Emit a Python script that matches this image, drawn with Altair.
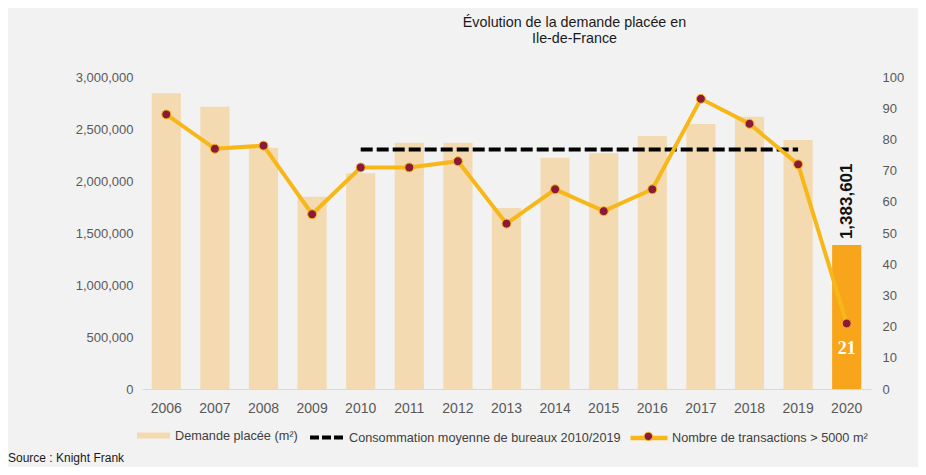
import altair as alt
import pandas as pd

# ---- data ----
years = [str(y) for y in range(2006, 2021)]
demande = [2843000, 2714000, 2320000, 1849000, 2074000, 2368000, 2368000,
           1740000, 2224000, 2266000, 2433000, 2548000, 2618000, 2394000, 1383601]
transactions = [88, 77, 78, 56, 71, 71, 73, 53, 64, 57, 64, 93, 85, 72, 21]
moyenne_years = ["2010", "2019"]
moyenne_values = [2303000, 2303000]
left_ticks = [0, 500000, 1000000, 1500000, 2000000, 2500000, 3000000]
right_ticks = [0, 10, 20, 30, 40, 50, 60, 70, 80, 90, 100]

lab_bar = "Demande placée (m²)"
lab_avg = "Consommation moyenne de bureaux 2010/2019"
lab_line = "Nombre de transactions > 5000 m²"
title_lines = ["Évolution de la demande placée en", "Ile-de-France"]
source_text = "Source : Knight Frank"

df = pd.DataFrame({"annee": years, "demande": demande, "transactions": transactions})
df["s_bar"] = lab_bar
df["s_line"] = lab_line
avg_df = pd.DataFrame({"annee": moyenne_years, "valeur": moyenne_values, "s_avg": lab_avg})
src_df = pd.DataFrame({"t": [source_text]})

FONT = "Liberation Sans"
C_BAR = "#f3dab0"
C_BAR20 = "#f9a51b"
C_LINE = "#f7b718"
C_PT = "#8b1a3a"
GREY = "#595959"

base = alt.Chart(df)

x_axis = alt.Axis(title=None, labelAngle=0, ticks=False, domainColor="#d9d9d9",
                  labelColor=GREY, labelFontSize=14, labelFont=FONT, labelPadding=12)
x_scale = alt.Scale(paddingInner=0.4, paddingOuter=0.2)
x_enc = alt.X("annee:N", sort=years, scale=x_scale, axis=x_axis)

left_scale = alt.Scale(domain=[0, 3000000], nice=False, zero=True)
right_scale = alt.Scale(domain=[0, 100], nice=False, zero=True)

rect_path = "M-1,-0.18L1,-0.18L1,0.18L-1,0.18Z"

legend_common = dict(title=None, orient="none", labelFont=FONT, labelFontSize=12.7,
                     labelColor="#404040", labelLimit=0)

bars = base.transform_filter(alt.datum.annee != "2020").mark_bar().encode(
    x=x_enc,
    y=alt.Y("demande:Q", scale=left_scale,
            axis=alt.Axis(title=None, values=left_ticks,
                          labelExpr="format(datum.value, ',')", grid=False, domain=False,
                          ticks=False, labelColor=GREY, labelFontSize=13, labelFont=FONT,
                          labelPadding=9)),
    color=alt.Color("s_bar:N", scale=alt.Scale(domain=[lab_bar], range=[C_BAR]),
                    legend=alt.Legend(legendX=-5, legendY=342,
                                      symbolType=rect_path, symbolSize=1089,
                                      symbolStrokeWidth=0, labelOffset=5, **legend_common)),
)

bar20 = base.transform_filter(alt.datum.annee == "2020").mark_bar(color=C_BAR20).encode(
    x=x_enc,
    y=alt.Y("demande:Q", scale=left_scale, axis=None),
)

avg = alt.Chart(avg_df).mark_line(strokeDash=[12, 4], strokeWidth=4).encode(
    x=x_enc,
    y=alt.Y("valeur:Q", scale=left_scale, axis=None),
    color=alt.Color("s_avg:N", scale=alt.Scale(domain=[lab_avg], range=["#000000"]),
                    legend=alt.Legend(legendX=166, legendY=341,
                                      symbolType="stroke", symbolSize=1225,
                                      symbolStrokeWidth=4, symbolDash=[9, 3],
                                      labelOffset=2, **legend_common)),
)

line = base.mark_line(strokeWidth=4).encode(
    x=x_enc,
    y=alt.Y("transactions:Q", scale=right_scale,
            axis=alt.Axis(orient="right", title=None, values=right_ticks, grid=False,
                          domain=False, ticks=False, labelColor=GREY, labelFontSize=13,
                          labelFont=FONT, labelPadding=11)),
    color=alt.Color("s_line:N", scale=alt.Scale(domain=[lab_line], range=[C_LINE]),
                    legend=alt.Legend(legendX=486, legendY=340,
                                      symbolType="stroke", symbolSize=1369,
                                      symbolStrokeWidth=4.5, labelOffset=2, **legend_common)),
)

points = base.mark_circle(size=80, opacity=1, stroke=C_LINE, strokeWidth=1).encode(
    x=x_enc,
    y=alt.Y("transactions:Q", scale=right_scale, axis=None),
    color=alt.Color("s_line:N", scale=alt.Scale(domain=[lab_line], range=[C_PT]),
                    legend=alt.Legend(legendX=500, legendY=353,
                                      symbolType="circle", symbolSize=70,
                                      symbolStrokeColor=C_LINE, symbolStrokeWidth=1,
                                      labelExpr="''", labelOffset=2, **legend_common)),
)

label_total = base.transform_filter(alt.datum.annee == "2020").mark_text(
    angle=270, align="left", baseline="middle", dx=6, font=FONT, fontSize=17,
    fontWeight="bold", color="#111111").encode(
    x=x_enc,
    y=alt.Y("demande:Q", scale=left_scale, axis=None),
    text=alt.Text("demande:Q", format=","),
)

label_21 = base.transform_filter(alt.datum.annee == "2020").mark_text(
    align="center", baseline="middle", dy=26, font="Liberation Serif", fontSize=18,
    fontWeight="bold", color="#ffffff").encode(
    x=x_enc,
    y=alt.Y("transactions:Q", scale=right_scale, axis=None),
    text=alt.Text("transactions:Q"),
)

source = alt.Chart(src_df).mark_text(align="left", baseline="middle", font=FONT,
                                     fontSize=12, color="#1a1a1a").encode(
    x=alt.value(-134), y=alt.value(381), text="t:N")

chart = alt.layer(bars, bar20, avg, line, points, label_total, label_21, source).resolve_scale(
    y="independent", color="independent"
).properties(
    width=729, height=312,
    padding={"left": 134, "top": 69, "right": 47, "bottom": 78},
    autosize=alt.AutoSizeParams(type="none"),
    background="#f2f2f2",
    title=alt.Title(title_lines, font=FONT, fontSize=14.3, fontWeight="normal",
                    color="#1a1a1a", anchor="middle", dx=68, offset=25, lineHeight=16),
).configure_view(stroke=None)

chart.save("out.html", embed_options={"renderer": "svg", "actions": False})
